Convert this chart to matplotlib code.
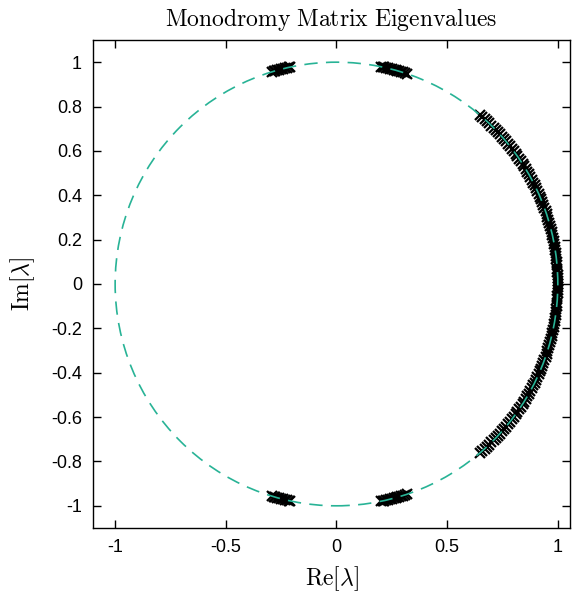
import numpy as np
import matplotlib
matplotlib.use("Agg")
import matplotlib.pyplot as plt
from matplotlib.patches import Circle

plt.rcParams["mathtext.fontset"] = "cm"
plt.rcParams["font.family"] = ["Liberation Sans", "DejaVu Sans"]

# Floquet multiplier arguments (degrees) on the unit circle
arc_upper_deg = [0.8, 1.6, 2.4, 3.2, 4.0, 4.8, 5.6, 6.4, 7.2, 8.0, 8.8, 9.6,
                 10.4, 11.2, 12.0, 12.8, 13.6, 14.4, 15.2, 16.0, 16.8, 17.6,
                 18.4, 19.2, 20.0, 20.8, 21.6, 22.4, 23.2, 24.0, 24.8, 25.6,
                 26.4, 27.2, 28.0, 28.8, 29.6, 30.4, 31.2, 32.0, 32.8, 33.6,
                 34.4, 35.2, 36.0, 36.8, 37.6, 38.4, 39.2, 40.0, 40.8, 41.6,
                 42.4, 43.2, 44.0, 44.8, 45.6, 46.4, 47.2, 48.0, 48.8, 49.5]
arc_lower_deg = [-0.8, -1.6, -2.4, -3.2, -4.0, -4.8, -5.6, -6.4, -7.2, -8.0,
                 -8.8, -9.6, -10.4, -11.2, -12.0, -12.8, -13.6, -14.4, -15.2,
                 -16.0, -16.8, -17.6, -18.4, -19.2, -20.0, -20.8, -21.6, -22.4,
                 -23.2, -24.0, -24.8, -25.6, -26.4, -27.2, -28.0, -28.8, -29.6,
                 -30.4, -31.2, -32.0, -32.8, -33.6, -34.4, -35.2, -36.0, -36.8,
                 -37.6, -38.4, -39.2, -40.0, -40.8, -41.6, -42.4, -43.2, -44.0,
                 -44.8, -45.6, -46.4, -47.2, -48.0, -48.8, -49.5]
cluster_upper_deg = [71.5, 72.0, 72.5, 73.0, 73.5, 74.0, 74.5, 75.0, 75.5, 76.0,
                     76.5, 77.0, 77.5, 78.0, 78.3,
                     102.0, 102.5, 103.0, 103.5, 104.0, 104.5, 105.0, 105.5,
                     106.0, 106.5, 107.0]
cluster_lower_deg = [-71.5, -72.0, -72.5, -73.0, -73.5, -74.0, -74.5, -75.0,
                     -75.5, -76.0, -76.5, -77.0, -77.5, -78.0, -78.3,
                     -102.0, -102.5, -103.0, -103.5, -104.0, -104.5, -105.0,
                     -105.5, -106.0, -106.5, -107.0]
trivial_deg = [0.0]

angles = np.deg2rad(np.array(arc_upper_deg + arc_lower_deg + cluster_upper_deg
                             + cluster_lower_deg + trivial_deg))
re_vals = np.cos(angles)
im_vals = np.sin(angles)

x_ticks = [-1, -0.5, 0, 0.5, 1]
x_tick_labels = ["-1", "-0.5", "0", "0.5", "1"]
y_ticks = [1, 0.8, 0.6, 0.4, 0.2, 0, -0.2, -0.4, -0.6, -0.8, -1]
y_tick_labels = ["1", "0.8", "0.6", "0.4", "0.2", "0", "-0.2", "-0.4", "-0.6", "-0.8", "-1"]

fig = plt.figure(figsize=(5.82, 5.99), dpi=100)
ax = fig.add_axes([93 / 582, 71 / 599, 477 / 582, 488 / 599])

ax.plot(re_vals, im_vals, linestyle="none", marker="x", color="black",
        markersize=7.5, markeredgewidth=1.6, zorder=2)

circle = Circle((0, 0), 1.0, fill=False, edgecolor="#28b396", linewidth=1.2,
                linestyle=(0, (8, 5)), zorder=3)
ax.add_patch(circle)

ax.set_xlim(-1.1, 1.055)
ax.set_ylim(-1.1, 1.1)

ax.set_xticks(x_ticks)
ax.set_xticklabels(x_tick_labels)
ax.set_yticks(y_ticks)
ax.set_yticklabels(y_tick_labels)
ax.tick_params(direction="in", length=6, width=1, top=True, right=True,
               labelsize=13, pad=8)
for s in ax.spines.values():
    s.set_linewidth(1.0)

ax.set_title(r"$\mathrm{Monodromy\ Matrix\ Eigenvalues}$", fontsize=17, pad=10)
ax.set_xlabel(r"$\mathrm{Re}[\lambda]$", fontsize=17, labelpad=6)
ax.set_ylabel(r"$\mathrm{Im}[\lambda]$", fontsize=17, labelpad=10)

fig.savefig("out.png", dpi=100)
